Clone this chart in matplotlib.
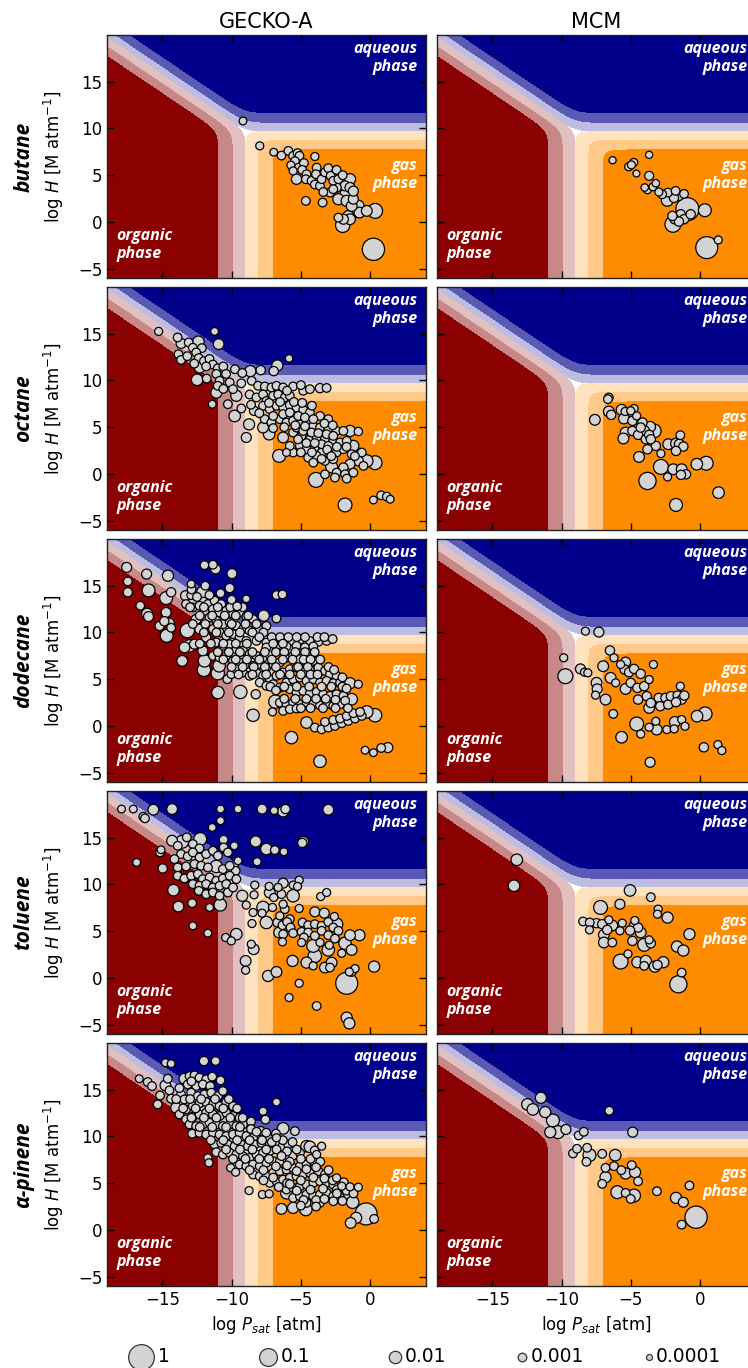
#!/usr/bin/env python3
"""Phase-partitioning maps (organic / aqueous / gas) for GECKO-A and MCM products."""

import matplotlib

matplotlib.use("Agg")
import matplotlib.pyplot as plt
import numpy as np

plt.rcParams.update(
    {
        "font.family": "DejaVu Sans",
        "font.size": 12,
        "axes.linewidth": 1.0,
        "mathtext.default": "it",
    }
)

LABEL_FONT = ["Open Sans", "DejaVu Sans"]

# partitioning thresholds: log H where aqueous uptake = 1, log Psat where organic uptake = 1
LOG_H_AQ = 9.7
LOG_P_ORG = -9.0
FRAC_LEVELS = [0.5, 0.9, 0.99, 1.001]

AQ_COLORS = ["#bdbde2", "#5a5ab4", "#00008b"]
ORG_COLORS = ["#e3c0c0", "#c88888", "#8b0000"]
GAS_COLORS = ["#ffe3bf", "#ffc98a", "#ff8c00"]

PRECURSORS = ["butane", "octane", "dodecane", "toluene", "α-pinene"]
MECHANISMS = ["GECKO-A", "MCM"]
LEGEND_FRACS = [1, 0.1, 0.01, 0.001, 0.0001]
LEGEND_LABELS = ["1", "0.1", "0.01", "0.001", "0.0001"]

# (log Psat [atm], log H [M/atm], log10 molar yield)
GECKO_BUTANE = [
    (-9.18, 10.8, -3.3), (-7.97, 8.14, -3.2), (-6.96, 7.46, -3.3), (-6.4, 7.1, -3.0),
    (-5.9, 7.6, -3.0), (-5.56, 7.07, -3.0), (-5.24, 7.36, -3.0), (-5.1, 7.07, -3.0),
    (-5.43, 6.5, -3.0), (-5.72, 6.07, -3.2), (-5.56, 5.46, -3.2), (-5.17, 5.8, -3.0),
    (-4.78, 6.3, -3.0), (-4.9, 5.57, -3.0), (-4.59, 5.1, -3.0), (-5.31, 4.57, -2.5),
    (-4.64, 4.57, -3.0), (-4.23, 4.4, -3.0), (-3.99, 7.0, -3.2), (-3.86, 5.8, -3.0),
    (-3.91, 5.1, -3.0), (-3.99, 4.0, -3.0), (-3.62, 3.86, -3.0), (-3.5, 4.57, -3.0),
    (-3.26, 5.3, -3.0), (-3.02, 5.75, -3.0), (-2.85, 4.93, -3.0), (-2.66, 4.4, -3.0),
    (-2.42, 5.57, -3.0), (-2.29, 4.57, -3.0), (-1.98, 5.0, -3.0), (-1.45, 4.57, -2.3),
    (-1.81, 3.86, -2.6), (-2.42, 3.68, -2.8), (-2.9, 3.14, -3.0), (-2.66, 3.5, -3.0),
    (-3.38, 3.2, -3.0), (-1.57, 2.86, -1.1), (-2.29, 2.43, -2.3), (-1.69, 2.25, -2.3),
    (-1.21, 2.43, -2.6), (-0.85, 1.71, -2.2), (-1.21, 1.0, -2.2), (-0.77, 1.0, -2.4),
    (-0.24, 1.18, -2.4), (0.36, 1.18, -1.5), (-1.93, 0.29, -2.6), (-2.29, 0.46, -3.0),
    (-1.98, -0.36, -1.6), (-1.57, 0.64, -2.4), (-4.64, 2.25, -3.0), (-3.43, 2.07, -3.0),
    (0.24, -2.93, -0.4), (-1.45, 3.68, -2.6), (-1.21, 3.3, -2.6), (-1.33, 1.7, -2.4),
    (-1.45, 0.29, -2.4),
]

MCM_BUTANE = [
    (-6.32, 6.6, -3.5), (-5.16, 5.9, -3.2), (-4.79, 6.36, -3.2), (-4.96, 6.1, -3.2),
    (-3.68, 7.18, -3.5), (-4.6, 5.18, -3.6), (-3.68, 4.93, -2.9), (-3.2, 4.14, -3.4),
    (-4.0, 3.68, -3.4), (-3.8, 3.43, -3.3), (-3.41, 3.75, -3.3), (-2.98, 3.2, -3.2),
    (-2.32, 3.14, -3.0), (-2.37, 2.32, -2.1), (-1.77, 3.32, -3.0), (-1.53, 2.79, -2.8),
    (-1.16, 3.0, -3.0), (-1.89, 2.57, -2.8), (-0.92, 1.36, -0.3), (0.34, 1.25, -1.9),
    (-1.4, 0.82, -2.8), (-1.84, 0.29, -2.8), (-1.96, -0.25, -1.3), (-1.16, 0.29, -2.8),
    (-1.53, 0.04, -2.8), (0.48, -2.75, -0.43), (1.31, -1.93, -3.2), (-2.0, 0.64, -2.8),
    (-0.68, 0.82, -2.8), (-2.74, 2.96, -3.0),
]

GECKO_OCTANE = [
    (-15.27, 15.25, -3.2), (-13.9, 14.6, -3.0), (-13.65, 13.96, -2.6), (-13.1, 14.07, -3.0),
    (-12.4, 14.14, -2.2), (-12.8, 13.5, -3.0), (-12.15, 13.46, -3.0), (-11.23, 15.25, -3.3),
    (-10.94, 13.89, -2.4), (-13.84, 12.8, -3.0), (-13.65, 12.2, -3.0), (-12.56, 13.0, -3.0),
    (-12.37, 12.4, -3.0), (-12.0, 12.07, -3.0), (-11.6, 12.3, -3.0), (-11.35, 11.7, -3.0),
    (-12.3, 11.4, -2.3), (-11.84, 11.5, -3.0), (-11.0, 11.3, -3.0), (-10.6, 11.5, -3.0),
    (-11.1, 10.7, -3.0), (-10.4, 10.7, -3.0), (-9.76, 11.2, -3.0), (-9.23, 10.8, -3.0),
    (-8.65, 11.0, -2.3), (-7.9, 11.1, -2.8), (-6.96, 11.0, -2.8), (-6.7, 11.6, -2.3),
    (-5.85, 12.36, -3.4), (-12.49, 10.07, -2.2), (-10.87, 9.96, -3.0), (-11.0, 9.43, -3.0),
    (-10.14, 9.79, -3.0), (-9.9, 9.07, -3.0), (-11.1, 8.7, -2.3), (-9.66, 8.36, -2.3),
    (-10.27, 7.46, -3.0), (-11.4, 7.46, -3.3), (-9.78, 6.2, -2.2), (-8.94, 3.9, -2.6),
    (-8.74, 5.3, -2.3), (-8.38, 6.75, -2.8), (-9.3, 9.7, -3.0), (-8.55, 9.96, -3.0),
    (-8.09, 9.43, -3.0), (-7.6, 9.36, -3.0), (-7.13, 9.25, -3.0), (-6.76, 9.43, -3.0),
    (-6.28, 9.25, -3.0), (-5.56, 9.36, -3.0), (-4.83, 8.9, -3.0), (-4.35, 9.07, -3.0),
    (-3.62, 9.18, -2.8), (-3.14, 9.2, -3.0), (-8.7, 8.5, -3.0), (-8.21, 8.18, -3.0),
    (-7.73, 8.5, -3.0), (-7.49, 7.8, -3.0), (-7.0, 8.36, -3.0), (-6.64, 8.5, -3.0),
    (-6.16, 8.18, -3.0), (-5.8, 8.36, -3.0), (-7.73, 7.29, -3.0), (-7.25, 6.93, -3.0),
    (-6.76, 7.29, -3.0), (-6.28, 7.1, -3.0), (-5.8, 7.36, -3.0), (-5.31, 7.1, -3.0),
    (-4.83, 6.86, -3.0), (-4.35, 6.57, -3.0), (-3.62, 6.2, -3.0), (-3.02, 5.86, -3.0),
    (-7.61, 5.86, -3.0), (-7.13, 5.5, -3.0), (-6.52, 5.86, -3.0), (-6.04, 5.5, -3.0),
    (-5.56, 5.68, -3.0), (-5.07, 5.32, -3.0), (-4.59, 5.5, -3.0), (-4.1, 5.14, -3.0),
    (-3.62, 4.96, -3.0), (-3.02, 4.79, -3.0), (-2.42, 4.6, -3.0), (-1.93, 4.6, -3.0),
    (-1.45, 4.6, -2.3), (-0.85, 4.54, -3.1), (-7.73, 4.96, -2.4), (-7.29, 4.25, -2.2),
    (-6.28, 3.9, -2.4), (-5.56, 4.43, -3.0), (-4.95, 4.07, -3.0), (-4.35, 3.7, -3.0),
    (-3.86, 3.9, -3.0), (-3.26, 3.7, -3.0), (-2.66, 3.54, -3.0), (-2.17, 3.36, -3.0),
    (-1.69, 3.54, -3.0), (-1.21, 3.0, -2.3), (-5.07, 3.0, -3.0), (-4.59, 2.64, -3.0),
    (-3.99, 2.82, -3.0), (-3.5, 2.29, -3.0), (-2.9, 2.46, -3.0), (-2.42, 2.29, -3.0),
    (-5.56, 2.29, -3.0), (-4.47, 1.75, -3.0), (-3.86, 1.93, -3.0), (-6.57, 1.93, -1.9),
    (-0.6, 2.29, -3.0), (-0.24, 1.39, -2.0), (0.36, 1.2, -1.7), (-0.85, 1.39, -2.6),
    (-1.45, 1.04, -2.6), (-1.93, 0.68, -2.8), (-2.78, 0.75, -2.1), (-2.42, 0.14, -3.0),
    (-1.81, -0.04, -3.0), (-1.21, 0.14, -3.0), (-3.26, -0.04, -3.0), (-3.91, -0.64, -1.5),
    (-2.54, -0.39, -3.0), (-1.69, -0.5, -3.0), (-1.81, -3.32, -1.7), (0.24, -2.79, -3.3),
    (0.8, -2.29, -3.0), (1.21, -2.43, -3.0), (1.45, -2.71, -3.3), (-7.0, 6.2, -3.0),
    (-6.28, 6.4, -3.0), (-5.8, 6.57, -3.0), (-5.19, 6.2, -3.0), (-4.71, 6.04, -3.0),
    (-4.1, 5.86, -3.0), (-5.31, 4.96, -3.0), (-4.83, 4.6, -3.0), (-4.23, 4.43, -3.0),
    (-3.74, 4.36, -3.0), (-3.14, 4.25, -3.0), (-2.66, 4.07, -3.0), (-3.5, 3.18, -3.0),
    (-3.02, 3.0, -3.0), (-1.93, 2.64, -3.0), (-1.33, 2.11, -3.0), (-5.8, 3.0, -3.0),
    (-6.04, 2.29, -3.3), (-4.1, 1.21, -3.0), (-3.26, 1.39, -3.0), (-2.66, 1.57, -3.0),
    (-0.48, 0.86, -3.0),
    (-7.3, 7.6, -3.0), (-6.5, 7.7, -3.0), (-5.5, 7.7, -3.0), (-4.9, 7.6, -3.0),
    (-4.2, 7.3, -3.0), (-7.0, 4.9, -3.0), (-6.2, 5.0, -3.0), (-5.4, 5.2, -3.0),
    (-4.7, 5.1, -3.0), (-3.3, 5.4, -3.0), (-2.7, 5.2, -3.0), (-5.2, 3.7, -3.0),
    (-4.6, 3.3, -3.0), (-4.0, 3.3, -3.0), (-3.1, 2.6, -3.0), (-2.4, 2.9, -3.0),
    (-1.7, 2.9, -3.0), (-5.0, 2.3, -3.0), (-4.2, 2.3, -3.0), (-3.5, 1.6, -3.0),
    (-2.8, 1.9, -3.0), (-1.1, 1.9, -3.0), (-6.0, 8.9, -3.0), (-5.0, 9.5, -3.0),
    (-8.0, 6.5, -3.0), (-8.6, 7.4, -3.0), (-9.3, 7.0, -3.0), (-10.6, 9.1, -3.0),
    (-11.8, 10.2, -3.0), (-13.2, 12.6, -3.0), (-12.7, 11.8, -3.0),
]

MCM_OCTANE = [
    (-6.59, 8.18, -3.0), (-6.66, 8.0, -3.0), (-7.6, 5.79, -2.4), (-6.59, 6.68, -2.4),
    (-6.42, 6.32, -2.8), (-5.67, 6.86, -2.4), (-5.42, 6.68, -3.2), (-4.77, 7.0, -3.2),
    (-4.58, 6.21, -3.2), (-5.5, 5.93, -2.4), (-4.89, 5.68, -2.8), (-4.16, 5.5, -2.8),
    (-3.61, 5.04, -2.4), (-5.38, 4.43, -2.4), (-4.89, 4.6, -2.8), (-4.48, 4.18, -2.8),
    (-4.04, 4.6, -2.4), (-3.32, 4.6, -1.7), (-5.54, 3.79, -2.4), (-3.92, 3.71, -2.8),
    (-3.68, 4.18, -2.8), (-3.2, 3.0, -2.8), (-3.8, 2.64, -2.8), (-4.41, 1.82, -2.4),
    (-2.83, 2.18, -3.2), (-2.3, 3.18, -2.4), (-1.74, 3.25, -2.4), (-1.43, 4.14, -3.0),
    (-1.5, 3.18, -2.6), (-1.21, 2.93, -2.8), (-1.74, 2.46, -2.8), (-2.83, 0.75, -1.5),
    (-2.35, -0.32, -3.2), (-3.8, -0.75, -1.1), (-1.94, 0.5, -2.4), (-1.33, 0.5, -2.4),
    (-1.02, -0.04, -2.8), (-1.38, -0.1, -2.8), (-0.24, 1.04, -2.2), (0.44, 1.14, -1.7),
    (1.33, -2.0, -2.2), (-1.74, -3.32, -1.9), (-4.29, 4.96, -2.8), (-3.56, 3.71, -2.8),
    (-5.01, 6.75, -3.2),
]

GECKO_DODECANE = [
    (-11.96, 17.2, -3.0), (-11.35, 17.25, -3.0), (-11.16, 16.8, -2.6), (-9.98, 16.3, -2.6),
    (-10.14, 14.75, -2.8), (-8.94, 13.6, -3.4), (-6.76, 14.0, -3.0), (-6.33, 14.07, -3.0),
    (-7.68, 11.8, -2.3), (-6.76, 11.5, -3.0), (-7.49, 10.7, -3.0), (-17.58, 16.96, -2.6),
    (-17.5, 15.46, -3.0), (-17.5, 14.3, -2.8), (-16.14, 16.25, -2.6), (-16.0, 14.5, -1.9),
    (-16.6, 12.86, -3.0), (-16.1, 12.0, -2.3), (-16.0, 11.7, -2.6), (-14.6, 16.07, -2.3),
    (-14.73, 13.68, -1.9), (-14.37, 14.3, -2.8), (-14.73, 12.14, -2.6), (-15.2, 10.7, -2.8),
    (-14.69, 9.64, -1.9), (-14.5, 11.0, -2.6), (-14.37, 10.5, -3.0), (-14.86, 11.2, -2.8),
    (-13.57, 6.96, -2.4), (-13.4, 8.4, -2.4), (-13.04, 8.57, -2.0), (-13.2, 10.2, -1.6),
    (-13.33, 13.93, -2.6), (-12.92, 14.0, -3.0), (-12.92, 15.18, -3.3), (-12.08, 14.29, -2.0),
    (-12.03, 13.3, -3.0), (-11.96, 12.3, -3.0), (-12.56, 11.4, -2.6), (-12.3, 10.36, -2.6),
    (-11.84, 9.46, -2.8), (-12.68, 8.75, -2.6), (-12.08, 8.04, -2.6), (-11.96, 6.96, -2.0),
    (-12.0, 6.0, -1.8), (-11.0, 5.64, -1.8), (-10.9, 6.43, -2.0), (-10.31, 5.0, -3.0),
    (-10.02, 5.54, -3.0), (-10.99, 3.57, -2.0), (-9.37, 3.64, -1.8), (-8.45, 1.14, -2.0),
    (-8.26, 3.39, -2.8), (-7.05, 1.5, -3.2), (-6.84, 2.6, -1.8), (-5.68, -1.25, -2.0),
    (-3.62, -3.79, -2.0), (-0.36, -2.6, -3.3), (0.24, -2.86, -3.3), (0.8, -2.36, -3.0),
    (1.28, -2.32, -2.6),
    (-8.21, 9.1, -3.0), (-7.49, 8.93, -3.0), (-6.88, 9.1, -3.0), (-6.28, 9.29, -3.0),
    (-5.68, 9.1, -3.0), (-5.07, 9.2, -3.0), (-4.35, 9.1, -3.0), (-3.74, 9.0, -3.0),
    (-3.14, 9.1, -3.0), (-7.49, 8.4, -3.0), (-6.76, 8.57, -3.0), (-6.04, 8.5, -3.0),
    (-5.31, 8.57, -3.0), (-4.71, 8.4, -3.0), (-4.1, 8.5, -3.0),
    (-13.29, 13.04, -3.0), (-12.8, 12.68, -3.0), (-12.32, 12.86, -3.0), (-11.71, 13.04, -3.0),
    (-11.23, 13.4, -3.0), (-10.75, 13.04, -3.0), (-11.35, 12.5, -3.0), (-10.87, 12.14, -3.0),
    (-10.39, 12.32, -3.0), (-9.9, 11.96, -3.0), (-9.42, 12.14, -3.0), (-8.94, 11.71, -3.0),
    (-8.45, 11.43, -3.0), (-11.59, 11.61, -3.0), (-11.11, 11.25, -3.0), (-10.63, 10.89, -3.0),
    (-10.14, 11.07, -3.0), (-9.66, 10.71, -3.0), (-9.18, 10.36, -3.0), (-8.7, 10.18, -3.0),
    (-11.35, 10.36, -3.0), (-10.87, 10.0, -3.0), (-10.39, 9.64, -3.0), (-9.9, 9.82, -3.0),
    (-9.42, 9.46, -3.0), (-8.94, 9.1, -3.0), (-11.11, 8.93, -3.0), (-10.63, 8.57, -3.0),
    (-10.14, 8.75, -3.0), (-9.66, 8.21, -3.0), (-9.18, 8.04, -3.0), (-8.7, 7.68, -3.0),
    (-8.21, 7.5, -3.0), (-7.73, 7.32, -3.0), (-7.25, 7.57, -3.0), (-11.35, 7.5, -3.0),
    (-10.87, 7.32, -3.0), (-10.39, 7.5, -3.0), (-9.9, 6.96, -3.0), (-9.42, 6.79, -3.0),
    (-8.94, 6.61, -3.0), (-8.45, 6.43, -3.0), (-7.97, 6.61, -3.0), (-7.49, 6.25, -3.0),
    (-7.0, 6.61, -3.0), (-6.52, 6.79, -3.0), (-6.04, 7.32, -3.0), (-5.56, 7.5, -3.0),
    (-5.07, 7.14, -3.0), (-4.59, 6.79, -3.0), (-4.1, 6.96, -3.0), (-9.66, 6.07, -3.0),
    (-9.18, 5.71, -3.0), (-8.7, 5.36, -3.0), (-8.21, 5.71, -3.0), (-7.73, 5.36, -3.0),
    (-7.25, 5.0, -3.0), (-6.76, 5.36, -3.0), (-6.28, 5.71, -3.0), (-5.8, 6.07, -3.0),
    (-5.31, 6.25, -3.0), (-4.83, 5.89, -3.0), (-4.35, 6.07, -3.0), (-3.74, 6.25, -3.0),
    (-3.26, 5.89, -3.0), (-2.9, 5.54, -3.0), (-2.42, 5.36, -3.0), (-7.97, 4.64, -3.0),
    (-7.49, 4.29, -3.0), (-7.0, 4.46, -3.0), (-6.52, 4.11, -3.0), (-6.04, 4.64, -3.0),
    (-5.56, 5.0, -3.0), (-5.07, 5.18, -3.0), (-4.59, 4.82, -3.0), (-4.1, 5.0, -3.0),
    (-3.62, 4.64, -3.0), (-3.14, 4.82, -3.0), (-2.66, 4.57, -3.0), (-2.17, 4.64, -3.0),
    (-1.45, 4.57, -2.3), (-0.85, 4.46, -3.2), (-5.8, 3.93, -3.0), (-5.31, 3.57, -3.0),
    (-4.83, 3.75, -3.0), (-4.35, 3.5, -3.0), (-3.86, 3.64, -3.0), (-3.38, 3.39, -3.0),
    (-2.9, 3.21, -3.0), (-2.42, 3.39, -3.0), (-1.93, 3.21, -3.0), (-1.33, 2.86, -2.2),
    (-6.52, 2.5, -3.0), (-6.04, 2.32, -3.0), (-5.56, 2.5, -3.0), (-5.07, 2.32, -3.0),
    (-4.59, 2.5, -3.0), (-4.1, 2.32, -3.0), (-3.62, 2.21, -3.0), (-3.14, 2.32, -3.0),
    (-2.66, 2.14, -3.0), (-2.17, 2.32, -3.0), (-6.28, 1.61, -3.0), (-5.8, 1.79, -3.0),
    (-5.31, 1.86, -3.0),
    (-4.59, 0.36, -2.2), (-3.99, -0.18, -3.0), (-3.5, -0.36, -3.0), (-3.02, -0.18, -3.0),
    (-2.54, 0.0, -3.0), (-2.05, 0.29, -3.0), (-1.57, 0.54, -3.0), (-1.09, 0.79, -3.0),
    (-0.6, 1.07, -3.0), (-0.24, 1.5, -2.0), (0.36, 1.14, -1.8), (-3.26, 0.43, -3.0),
    (-2.66, 0.64, -3.0), (-2.17, 0.79, -3.0), (-1.69, 1.07, -3.0), (-1.21, 1.36, -3.0),
    (-0.72, 1.5, -3.0),
    (-13.0, 12.7, -3.0), (-12.0, 12.7, -3.0), (-11.0, 12.7, -3.0), (-10.1, 12.7, -3.0),
    (-9.2, 12.7, -3.0), (-12.3, 11.8, -3.0), (-11.4, 11.8, -3.0), (-10.5, 11.8, -3.0),
    (-9.7, 11.8, -3.0), (-8.8, 11.8, -3.0), (-12.8, 10.9, -3.0), (-11.9, 10.9, -3.0),
    (-11.0, 10.9, -3.0), (-10.0, 10.9, -3.0), (-9.0, 10.9, -3.0), (-8.2, 10.9, -3.0),
    (-12.0, 10.0, -3.0), (-11.1, 10.0, -3.0), (-10.2, 10.0, -3.0), (-9.4, 10.0, -3.0),
    (-8.5, 10.0, -3.0), (-7.7, 10.0, -3.0), (-8.0, 9.5, -3.0), (-7.1, 9.5, -3.0),
    (-6.5, 9.5, -3.0), (-5.9, 9.5, -3.0), (-5.3, 9.5, -3.0), (-4.7, 9.5, -3.0),
    (-3.8, 9.5, -3.0), (-3.3, 9.5, -3.0), (-2.7, 9.3, -3.0), (-12.3, 8.8, -3.0),
    (-11.5, 8.8, -3.0), (-10.6, 8.8, -3.0), (-9.7, 8.8, -3.0), (-8.9, 8.8, -3.0),
    (-7.0, 8.8, -3.0), (-6.3, 8.8, -3.0), (-11.0, 7.9, -3.0), (-10.2, 7.9, -3.0),
    (-9.4, 7.9, -3.0), (-8.5, 7.9, -3.0), (-7.6, 7.9, -3.0), (-6.8, 7.9, -3.0),
    (-6.2, 7.9, -3.0), (-5.4, 7.9, -3.0), (-4.7, 7.9, -3.0), (-4.0, 7.9, -3.0),
    (-10.6, 7.1, -3.0), (-9.7, 7.1, -3.0), (-8.9, 7.1, -3.0), (-8.0, 7.1, -3.0),
    (-7.1, 7.1, -3.0), (-6.3, 7.1, -3.0), (-5.6, 7.1, -3.0), (-4.8, 7.1, -3.0),
    (-4.3, 7.1, -3.0), (-3.6, 7.1, -3.0), (-10.0, 6.3, -3.0), (-9.2, 6.3, -3.0),
    (-8.4, 6.3, -3.0), (-7.6, 6.3, -3.0), (-6.8, 6.3, -3.0), (-5.2, 6.3, -3.0),
    (-4.5, 6.3, -3.0), (-3.0, 6.3, -3.0), (-2.6, 6.0, -3.0), (-9.5, 5.5, -3.0),
    (-8.5, 5.5, -3.0), (-7.5, 5.5, -3.0), (-6.5, 5.5, -3.0), (-5.8, 5.5, -3.0),
    (-5.0, 5.5, -3.0), (-4.3, 5.5, -3.0), (-3.8, 5.5, -3.0), (-2.0, 5.2, -3.0),
    (-7.2, 4.2, -3.0), (-6.8, 3.8, -3.0), (-6.2, 4.2, -3.0), (-5.3, 4.2, -3.0),
    (-4.4, 4.2, -3.0), (-3.5, 4.2, -3.0), (-2.8, 4.2, -3.0), (-2.0, 4.2, -3.0),
    (-1.7, 4.0, -3.0), (-6.2, 2.9, -3.0), (-5.4, 2.9, -3.0), (-4.6, 2.9, -3.0),
    (-3.9, 2.9, -3.0), (-3.2, 2.9, -3.0), (-2.5, 2.8, -3.0), (-1.8, 2.7, -3.0),
    (-5.0, 1.9, -3.0), (-4.3, 1.9, -3.0), (-3.4, 1.9, -3.0), (-2.5, 1.9, -3.0),
    (-1.6, 1.9, -3.0), (-12.5, 13.8, -3.0), (-11.6, 14.0, -3.0), (-10.8, 14.2, -3.0),
    (-10.0, 13.5, -3.0), (-9.6, 12.8, -3.0), (-12.9, 14.6, -3.0), (-11.9, 15.0, -3.0),
]

MCM_DODECANE = [
    (-8.28, 10.14, -3.2), (-7.31, 10.04, -2.6), (-9.85, 7.29, -3.2), (-9.73, 5.32, -1.5),
    (-8.64, 6.1, -2.6), (-8.35, 5.75, -3.2), (-8.11, 5.68, -3.2), (-6.51, 8.07, -2.8),
    (-6.22, 7.29, -3.2), (-7.0, 6.39, -2.4), (-5.74, 6.57, -3.2), (-5.38, 6.82, -2.6),
    (-5.45, 6.04, -2.8), (-5.13, 5.75, -2.8), (-4.77, 6.1, -2.8), (-4.29, 5.57, -2.8),
    (-3.37, 6.57, -3.2), (-6.46, 5.14, -2.4), (-7.48, 4.61, -2.4), (-7.43, 3.96, -2.6),
    (-7.55, 3.29, -3.2), (-6.83, 2.82, -2.4), (-6.27, 1.29, -3.0), (-6.1, 4.61, -3.2),
    (-5.38, 3.96, -2.4), (-5.01, 4.61, -2.8), (-4.53, 4.07, -2.8), (-4.04, 4.25, -2.8),
    (-3.68, 4.96, -3.2), (-4.48, 2.82, -2.8), (-3.85, 3.18, -2.8), (-3.56, 2.46, -2.8),
    (-3.68, 1.93, -2.4), (-2.99, 3.0, -2.8), (-2.5, 3.0, -2.8), (-2.88, 2.11, -2.8),
    (-2.3, 2.29, -2.8), (-2.11, 3.18, -2.8), (-1.62, 3.25, -2.8), (-1.43, 4.25, -3.2),
    (-1.33, 2.82, -2.8), (-1.14, 3.25, -2.8), (-1.74, 2.54, -2.8), (-0.22, 1.04, -2.2),
    (0.36, 1.29, -1.7), (-4.58, 0.21, -1.7), (-3.68, -0.14, -3.2), (-3.2, 0.5, -3.2),
    (-3.13, -0.39, -2.4), (-2.4, -0.39, -3.2), (-1.87, -0.32, -3.2), (-1.82, 0.43, -2.4),
    (-1.33, 0.68, -3.2), (-1.09, -0.04, -3.2), (-4.29, -0.86, -3.2), (-5.67, -1.21, -2.2),
    (0.27, -2.29, -2.8), (1.28, -2.0, -3.2), (1.57, -2.64, -3.2), (-3.61, -3.89, -2.6),
]

GECKO_TOLUENE = [
    (-17.95, 18.07, -3.3), (-17.1, 18.07, -3.3), (-16.38, 17.25, -3.0), (-16.26, 17.07, -3.0),
    (-15.65, 18.0, -2.4), (-14.3, 18.07, -2.4), (-10.8, 18.07, -3.3), (-9.54, 18.07, -3.3),
    (-7.8, 18.07, -2.6), (-6.93, 17.9, -3.3), (-6.28, 17.82, -2.3), (-6.11, 18.07, -2.8),
    (-3.02, 18.0, -2.4), (-10.8, 16.82, -3.3), (-11.4, 16.1, -3.3), (-8.26, 14.6, -2.3),
    (-7.49, 13.79, -2.2), (-6.88, 13.68, -3.0), (-6.23, 13.5, -3.3), (-8.16, 12.43, -3.2),
    (-4.83, 14.57, -2.4), (-4.9, 14.45, -2.8), (-10.58, 14.79, -3.0), (-9.81, 14.14, -3.3),
    (-10.58, 13.96, -3.0), (-10.27, 13.43, -3.0), (-9.54, 12.54, -3.3), (-9.83, 12.07, -3.0),
    (-9.71, 11.46, -3.0), (-16.86, 12.36, -3.3), (-15.1, 13.71, -3.3), (-15.17, 13.43, -3.0),
    (-14.98, 11.71, -2.8), (-14.2, 9.39, -2.2), (-13.84, 7.64, -2.4), (-12.8, 5.57, -3.3),
    (-12.85, 8.0, -3.0), (-11.72, 4.79, -3.3), (-11.59, 7.54, -3.3), (-10.82, 7.82, -2.0),
    (-14.3, 14.68, -2.4), (-13.57, 14.57, -1.9), (-13.24, 15.04, -3.0), (-12.8, 14.32, -3.0),
    (-12.27, 14.86, -1.9), (-12.32, 13.86, -3.0), (-13.89, 14.14, -3.0), (-13.65, 13.25, -3.0),
    (-13.17, 13.0, -3.0), (-12.8, 13.43, -3.0), (-12.32, 12.89, -3.0), (-11.84, 13.25, -3.0),
    (-11.35, 13.61, -3.0), (-10.99, 13.07, -3.0), (-14.13, 12.71, -3.0), (-13.89, 11.82, -3.0),
    (-13.29, 11.93, -3.0), (-12.68, 12.18, -3.0), (-12.2, 12.0, -3.0), (-11.71, 11.82, -3.0),
    (-11.11, 11.93, -2.0), (-10.63, 11.64, -3.0), (-10.14, 12.0, -3.0), (-13.89, 10.93, -3.0),
    (-13.41, 10.64, -3.0), (-12.92, 10.93, -3.0), (-12.44, 11.11, -3.0), (-12.08, 10.57, -3.0),
    (-11.59, 10.75, -3.0), (-11.11, 10.39, -3.0), (-10.63, 10.64, -3.0), (-10.14, 10.93, -3.0),
    (-9.66, 10.57, -3.0), (-12.8, 10.04, -3.0), (-12.32, 9.86, -3.0), (-11.84, 10.04, -3.0),
    (-11.35, 9.68, -3.0), (-10.87, 9.86, -3.0), (-10.39, 10.04, -3.0), (-12.37, 9.32, -3.0),
    (-11.84, 8.96, -3.0), (-11.35, 9.14, -3.0), (-10.87, 8.79, -3.0), (-10.27, 9.14, -3.0),
    (-9.9, 9.68, -3.0), (-9.23, 8.79, -2.3), (-8.94, 7.79, -3.2), (-8.38, 8.89, -3.2),
    (-8.33, 9.93, -3.2),
    (-7.29, 9.79, -3.2), (-6.64, 9.68, -3.2), (-6.28, 10.14, -2.6), (-5.56, 9.93, -3.2),
    (-5.12, 10.46, -3.2), (-5.24, 9.79, -3.2), (-5.56, 8.79, -2.0), (-7.25, 9.14, -2.4),
    (-6.96, 8.61, -3.2), (-6.4, 8.96, -3.0), (-3.57, 8.71, -3.2), (-3.14, 9.14, -3.2),
    (-7.73, 7.54, -2.0), (-7.05, 7.54, -3.2), (-6.28, 7.89, -3.2), (-6.16, 7.36, -3.0),
    (-5.12, 7.43, -3.2), (-3.99, 7.07, -2.6), (-3.31, 6.93, -2.6), (-2.58, 6.57, -3.2),
    (-8.45, 7.0, -3.2), (-7.8, 6.93, -3.2), (-6.52, 6.64, -3.2), (-5.8, 6.29, -3.0),
    (-7.49, 5.93, -2.0), (-8.53, 5.82, -3.2), (-6.71, 5.93, -3.0), (-6.33, 5.64, -3.0),
    (-5.99, 5.99, -3.0), (-5.75, 5.39, -3.0), (-4.88, 5.93, -3.0), (-4.47, 5.64, -3.0),
    (-3.99, 5.75, -3.0), (-3.5, 5.57, -3.0), (-3.02, 5.99, -3.0), (-2.42, 5.75, -2.0),
    (-2.66, 5.39, -3.0), (-2.29, 5.04, -3.0), (-6.57, 4.86, -2.4), (-6.28, 4.68, -3.0),
    (-5.56, 4.79, -3.0), (-4.95, 4.93, -3.0), (-4.47, 4.86, -3.0), (-3.99, 4.5, -3.0),
    (-3.5, 5.04, -3.0), (-3.02, 4.57, -3.0), (-2.54, 4.21, -3.0), (-9.66, 4.68, -2.2),
    (-10.43, 4.32, -3.2), (-10.02, 3.96, -3.2), (-8.58, 3.61, -3.2), (-8.41, 3.07, -2.4),
    (-8.99, 1.82, -2.4), (-8.99, 0.82, -3.2), (-6.33, 3.86, -3.2), (-4.95, 3.79, -3.2),
    (-4.78, 4.32, -3.0), (-4.11, 3.43, -1.9), (-3.62, 3.79, -3.2), (-3.02, 3.0, -2.0),
    (-2.95, 3.5, -3.2), (-1.81, 3.71, -2.0), (-1.33, 3.0, -2.4), (-1.45, 4.57, -2.4),
    (-0.77, 4.57, -2.3), (-2.05, 2.64, -3.2),
    (-5.6, 1.82, -2.3), (-4.59, 1.64, -2.3), (-3.99, 2.36, -1.8), (-4.11, 1.29, -3.2),
    (-3.26, 1.11, -2.4), (-2.78, 1.64, -2.4), (-2.9, 1.11, -3.0), (-1.09, 1.0, -3.2),
    (-1.5, 0.64, -3.2), (0.29, 1.21, -2.3), (-1.69, -0.57, -0.43), (-5.12, -0.57, -3.2),
    (-6.76, 0.64, -2.4), (-7.37, 0.21, -2.3), (-5.85, -2.1, -3.2), (-3.86, -3.0, -3.0),
    (-1.69, -4.25, -2.3), (-1.5, -4.86, -2.3), (-1.33, 0.64, -3.0),
]

MCM_TOLUENE = [
    (-13.24, 12.64, -2.2), (-13.44, 9.86, -2.2), (-5.06, 9.36, -2.2), (-3.56, 8.64, -3.0),
    (-7.19, 7.54, -1.7), (-5.79, 7.89, -2.6), (-3.03, 7.36, -3.2), (-3.08, 6.82, -3.2),
    (-2.35, 6.46, -2.3), (-8.45, 6.04, -3.0), (-7.97, 5.93, -3.0), (-7.48, 5.86, -2.8),
    (-7.07, 5.75, -2.8), (-6.59, 6.21, -3.2), (-6.34, 5.61, -2.4), (-5.62, 5.86, -3.2),
    (-4.72, 6.14, -3.2), (-4.77, 5.61, -2.8), (-4.48, 5.39, -2.8), (-4.29, 4.86, -2.4),
    (-5.06, 5.07, -2.8), (-5.79, 5.04, -3.2), (-7.99, 5.14, -3.2), (-6.95, 4.61, -2.4),
    (-6.71, 5.14, -2.8), (-6.95, 3.79, -2.4), (-6.34, 3.79, -3.0), (-4.89, 3.96, -2.8),
    (-4.04, 3.54, -1.9), (-3.68, 4.07, -3.2), (-3.56, 3.71, -2.8), (-0.77, 4.68, -2.3),
    (-1.67, 3.36, -2.3), (-1.21, 2.93, -2.3), (-5.74, 1.75, -1.5), (-5.21, 2.57, -3.2),
    (-4.53, 1.68, -2.3), (-3.92, 1.82, -2.3), (-4.04, 1.29, -3.0), (-3.27, 1.21, -2.3),
    (-2.66, 1.68, -2.3), (-3.08, 1.39, -2.8), (-1.33, 0.57, -3.0), (-1.57, -0.68, -1.1),
]

GECKO_APINENE = [
    (-16.67, 16.18, -3.3), (-16.06, 15.82, -3.0), (-15.75, 15.39, -3.0), (-14.78, 17.89, -3.3),
    (-14.37, 17.79, -3.3), (-12.0, 18.07, -2.8), (-11.16, 18.07, -3.0), (-10.8, 16.0, -3.0),
    (-15.34, 13.43, -3.0), (-15.17, 14.39, -3.0), (-14.78, 15.46, -2.4), (-14.61, 16.18, -3.0),
    (-14.49, 14.93, -3.0), (-14.37, 14.04, -3.0), (-14.01, 13.07, -2.4), (-13.65, 14.5, -3.0),
    (-13.41, 16.18, -2.4), (-13.04, 16.46, -3.0), (-12.68, 16.54, -3.0), (-12.32, 16.29, -3.0),
    (-11.84, 16.11, -3.0), (-13.17, 15.57, -3.0), (-12.56, 15.39, -3.0), (-12.08, 15.57, -3.0),
    (-11.55, 15.39, -3.0), (-13.77, 15.18, -3.0), (-13.41, 13.96, -3.0), (-12.92, 14.68, -3.0),
    (-12.44, 14.32, -3.0), (-11.96, 14.5, -3.0), (-11.47, 14.68, -3.0), (-10.99, 14.32, -3.0),
    (-10.63, 14.86, -3.0), (-13.77, 12.36, -3.0), (-13.29, 12.89, -3.0), (-12.8, 13.25, -3.0),
    (-12.32, 13.54, -3.0), (-11.84, 13.68, -3.0), (-11.35, 13.43, -3.0), (-10.87, 13.25, -3.0),
    (-10.39, 13.68, -3.0), (-9.9, 13.25, -3.0), (-13.29, 11.82, -3.0), (-12.8, 12.11, -3.0),
    (-12.32, 12.36, -3.0), (-11.84, 12.54, -3.0), (-11.35, 12.36, -3.0), (-10.87, 12.18, -3.0),
    (-10.39, 12.54, -3.0), (-9.9, 12.18, -3.0), (-9.42, 12.0, -3.0), (-13.04, 11.29, -3.0),
    (-12.56, 11.11, -3.0), (-12.08, 11.29, -3.0), (-11.59, 11.46, -3.0), (-11.11, 11.29, -3.0),
    (-10.63, 11.11, -3.0), (-10.14, 11.29, -3.0), (-9.66, 11.11, -3.0), (-9.18, 11.29, -3.0),
    (-12.85, 10.29, -3.0), (-12.32, 10.39, -3.0), (-11.84, 10.21, -3.0), (-11.35, 10.39, -3.0),
    (-10.87, 10.21, -3.0), (-10.39, 10.04, -3.0), (-9.9, 10.21, -3.0), (-9.42, 10.39, -3.0),
    (-8.94, 10.04, -3.0), (-8.45, 9.86, -3.0), (-11.23, 9.14, -3.0), (-10.75, 9.32, -3.0),
    (-10.27, 9.14, -3.0), (-9.78, 8.96, -3.0), (-9.3, 9.14, -3.0), (-8.82, 8.96, -3.0),
    (-8.33, 9.14, -3.0), (-7.85, 9.32, -3.0), (-7.37, 9.86, -3.0), (-6.76, 9.86, -3.2),
    (-11.72, 7.71, -3.2), (-11.64, 7.18, -3.2), (-11.11, 8.32, -3.0), (-10.63, 8.07, -3.0),
    (-10.14, 8.25, -3.0), (-9.66, 8.07, -3.0), (-9.18, 7.89, -3.0), (-8.7, 7.71, -3.0),
    (-8.21, 8.07, -3.0), (-7.73, 8.25, -3.0), (-7.25, 8.43, -3.0), (-6.76, 8.61, -3.0),
    (-6.28, 8.96, -2.6), (-5.92, 9.14, -3.0), (-10.07, 6.64, -3.2), (-9.71, 6.18, -3.2),
    (-9.42, 7.0, -3.0), (-8.94, 6.82, -3.0), (-8.45, 7.0, -3.0), (-7.97, 6.82, -3.0),
    (-7.49, 7.18, -3.0), (-7.0, 7.36, -3.0), (-6.52, 7.36, -3.0), (-6.04, 7.71, -3.0),
    (-5.56, 7.96, -3.0), (-5.07, 8.25, -3.0), (-4.59, 8.96, -2.2), (-4.35, 8.89, -2.2),
    (-3.5, 8.96, -3.2), (-8.45, 5.93, -3.0), (-7.97, 5.75, -3.0), (-7.49, 5.93, -3.0),
    (-7.0, 6.11, -3.0), (-6.52, 6.29, -3.0), (-6.04, 6.46, -3.0), (-5.56, 6.64, -3.0),
    (-5.07, 6.82, -3.0), (-4.59, 7.0, -3.0), (-4.1, 7.36, -3.0), (-3.86, 8.07, -3.2),
    (-7.25, 5.04, -3.0), (-6.76, 5.21, -3.0), (-6.28, 5.39, -3.0), (-5.8, 5.57, -3.0),
    (-5.31, 5.75, -3.0), (-4.83, 5.93, -3.0), (-4.35, 6.11, -3.0), (-3.74, 6.29, -3.0),
    (-3.26, 5.93, -3.0), (-2.42, 5.57, -3.2), (-6.04, 4.32, -3.0), (-5.56, 4.5, -3.0),
    (-5.07, 4.68, -3.0), (-4.59, 4.86, -3.0), (-4.1, 5.04, -3.0), (-3.62, 5.21, -3.0),
    (-3.14, 5.04, -3.0), (-2.66, 4.86, -3.0), (-2.05, 4.68, -3.2), (-1.45, 4.61, -3.2),
    (-0.85, 4.57, -3.2), (-8.74, 4.21, -3.2), (-7.78, 3.79, -3.2), (-7.29, 3.86, -3.2),
    (-6.04, 3.93, -2.2), (-5.56, 3.43, -3.0), (-5.07, 3.61, -3.0), (-4.59, 3.79, -3.0),
    (-4.11, 3.61, -3.0), (-3.62, 3.79, -3.0), (-3.14, 3.96, -3.0), (-2.66, 3.61, -3.0),
    (-2.17, 3.43, -3.0), (-1.69, 3.68, -2.0), (-1.26, 2.96, -2.0), (-6.4, 2.25, -2.4),
    (-5.56, 2.36, -2.3), (-4.64, 2.18, -2.0), (-4.59, 2.89, -3.0), (-3.62, 2.89, -3.0),
    (-2.66, 3.07, -3.0), (-0.29, 1.71, -0.43), (-1.01, 1.29, -2.3), (-1.4, 0.75, -2.4),
    (0.29, 1.18, -3.0),
    (-7.73, 12.7, -3.2), (-7.56, 11.8, -3.0), (-6.28, 10.86, -2.2), (-5.43, 10.57, -3.0),
    (-6.76, 13.68, -3.3), (-12.9, 15.9, -3.0), (-11.4, 16.4, -3.0), (-14.0, 14.0, -3.0),
    (-13.0, 14.0, -3.0), (-12.2, 14.0, -3.0), (-11.2, 14.0, -3.0), (-10.2, 14.0, -3.0),
    (-13.5, 13.0, -3.0), (-12.6, 13.0, -3.0), (-11.6, 13.0, -3.0), (-10.6, 13.0, -3.0),
    (-9.6, 13.0, -3.0), (-12.9, 12.0, -3.0), (-12.0, 12.0, -3.0), (-11.1, 12.0, -3.0),
    (-10.1, 12.0, -3.0), (-9.2, 12.0, -3.0), (-8.6, 11.6, -3.0), (-12.3, 11.0, -3.0),
    (-11.4, 11.0, -3.0), (-10.4, 11.0, -3.0), (-9.4, 11.0, -3.0), (-8.6, 10.8, -3.0),
    (-7.9, 10.6, -3.0), (-8.2, 10.5, -3.0), (-7.5, 10.4, -3.0), (-6.8, 10.3, -3.0),
    (-11.5, 9.6, -3.0), (-10.6, 9.6, -3.0), (-9.6, 9.6, -3.0), (-8.7, 9.6, -3.0),
    (-7.8, 9.6, -3.0), (-7.1, 9.4, -3.0), (-6.3, 9.6, -3.0), (-5.6, 9.4, -3.0),
    (-10.4, 8.6, -3.0), (-9.4, 8.6, -3.0), (-8.5, 8.6, -3.0), (-7.5, 8.6, -3.0),
    (-6.0, 8.4, -3.0), (-5.3, 8.6, -3.0), (-4.0, 8.5, -3.0), (-9.9, 7.6, -3.0),
    (-9.0, 7.6, -3.0), (-8.0, 7.6, -3.0), (-7.3, 7.6, -3.0), (-6.4, 7.9, -3.0),
    (-5.8, 7.3, -3.0), (-5.0, 7.6, -3.0), (-4.3, 7.6, -3.0), (-3.6, 7.3, -3.0),
    (-8.7, 6.4, -3.0), (-7.7, 6.4, -3.0), (-6.8, 6.8, -3.0), (-6.0, 6.9, -3.0),
    (-5.3, 6.3, -3.0), (-4.6, 6.5, -3.0), (-3.9, 6.7, -3.0), (-3.0, 6.4, -3.0),
    (-7.7, 5.3, -3.0), (-7.0, 5.6, -3.0), (-6.0, 5.0, -3.0), (-5.0, 5.3, -3.0),
    (-4.1, 5.6, -3.0), (-3.3, 5.5, -3.0), (-2.7, 5.3, -3.0), (-1.9, 5.1, -3.0),
    (-6.6, 4.6, -3.0), (-5.8, 4.9, -3.0), (-5.3, 4.2, -3.0), (-4.3, 4.3, -3.0),
    (-3.4, 4.4, -3.0), (-2.4, 4.3, -3.0), (-1.7, 4.2, -3.0), (-4.8, 3.2, -3.0),
    (-3.9, 3.2, -3.0), (-2.4, 3.9, -3.0), (-1.2, 3.9, -3.0), (-3.3, 3.3, -3.0),
    (-2.0, 3.1, -3.0), (-5.0, 2.6, -3.0), (-3.9, 2.5, -3.0),
]

MCM_APINENE = [
    (-12.47, 13.43, -2.2), (-12.08, 12.89, -2.2), (-11.5, 14.14, -2.3), (-11.19, 12.61, -2.3),
    (-10.63, 11.71, -1.9), (-10.82, 10.46, -2.3), (-10.27, 10.46, -1.9), (-9.69, 10.75, -2.6),
    (-8.77, 10.11, -3.0), (-8.4, 10.5, -3.0), (-6.56, 12.75, -3.0), (-4.87, 10.46, -2.6),
    (-9.18, 8.18, -3.0), (-8.89, 8.68, -3.0), (-8.16, 8.79, -3.0), (-7.99, 8.0, -1.9),
    (-8.21, 7.29, -3.0), (-7.07, 8.14, -3.0), (-6.13, 8.0, -2.2), (-6.83, 6.64, -3.0),
    (-6.22, 6.82, -3.0), (-5.69, 6.39, -3.0), (-5.38, 6.04, -2.3), (-4.94, 6.93, -3.0),
    (-4.7, 6.18, -2.3), (-4.48, 5.21, -3.0), (-6.83, 5.64, -2.3), (-7.07, 4.93, -3.0),
    (-5.98, 4.04, -1.9), (-5.38, 3.96, -3.0), (-4.77, 3.68, -1.9), (-5.01, 3.32, -3.0),
    (-3.12, 4.14, -3.0), (-0.77, 4.75, -3.0), (-1.74, 3.43, -2.3), (-1.21, 2.96, -2.6),
    (-0.29, 1.36, -0.4), (-1.33, 0.57, -3.0),
]

PANEL_DATA = [
    [GECKO_BUTANE, MCM_BUTANE],
    [GECKO_OCTANE, MCM_OCTANE],
    [GECKO_DODECANE, MCM_DODECANE],
    [GECKO_TOLUENE, MCM_TOLUENE],
    [GECKO_APINENE, MCM_APINENE],
]

XLIM = (-19, 4)
YLIM = (-6, 20)
FIG_W, FIG_H = 748, 1368


def marker_area(log_frac):
    """Scatter area (pt^2) for a given log10 yield."""
    return marker_diam(log_frac) ** 2


def marker_diam(log_frac):
    """Marker diameter in points."""
    diam_px = 25.7 * 10 ** (0.158 * np.asarray(log_frac, dtype=float))
    return diam_px * 72 / 100


def phase_fractions(x, y):
    k_aq = 10 ** (y - LOG_H_AQ)
    k_org = 10 ** (LOG_P_ORG - x)
    total = 1 + k_aq + k_org
    return k_aq / total, k_org / total, 1 / total


def draw_background(ax, grid_x, grid_y):
    f_aq, f_org, f_gas = phase_fractions(grid_x, grid_y)
    for frac, colors in ((f_aq, AQ_COLORS), (f_org, ORG_COLORS), (f_gas, GAS_COLORS)):
        ax.contourf(grid_x, grid_y, frac, levels=FRAC_LEVELS, colors=colors, zorder=0)


def phase_labels(ax):
    style = dict(color="white", fontweight="bold", fontstyle="italic",
                 family=LABEL_FONT, fontsize=11.5, transform=ax.transAxes, linespacing=1.15)
    ax.text(0.975, 0.905, "aqueous\nphase", ha="right", va="center", **style)
    ax.text(0.975, 0.425, "gas\nphase", ha="right", va="center", **style)
    ax.text(0.03, 0.135, "organic\nphase", ha="left", va="center", **style)


def draw_size_key(fig):
    """Row of reference circles under the panels."""
    key = fig.add_axes([0, 0, 1, 24 / FIG_H])
    key.set_xlim(0, FIG_W)
    key.set_ylim(0, 24)
    key.axis("off")
    for i, (frac, label) in enumerate(zip(LEGEND_FRACS, LEGEND_LABELS)):
        cx = 141 + 127 * i
        log_f = np.log10(frac)
        key.scatter([cx], [11], s=marker_area(log_f), facecolor="#d3d3d3",
                    edgecolor="#333333", linewidth=0.9, clip_on=False)
        radius_px = marker_diam(log_f) * 100 / 72 / 2
        key.text(cx + radius_px + 4, 11, label, ha="left", va="center", fontsize=13.5)


def main():
    fig = plt.figure(figsize=(FIG_W / 100, FIG_H / 100), dpi=100)

    gx, gy = np.meshgrid(np.linspace(*XLIM, 500), np.linspace(*YLIM, 500))

    col_left = [107, 437]
    ax_w, ax_h = 318.5, 243
    for row, name in enumerate(PRECURSORS):
        top = 35 + 252 * row
        for col in range(2):
            ax = fig.add_axes([col_left[col] / FIG_W, 1 - (top + ax_h) / FIG_H,
                               ax_w / FIG_W, ax_h / FIG_H])
            ax.set_facecolor("white")
            draw_background(ax, gx, gy)

            pts = np.array(PANEL_DATA[row][col])
            pts = pts[np.argsort(-pts[:, 2], kind="stable")]
            ax.scatter(pts[:, 0], pts[:, 1], s=marker_area(pts[:, 2]),
                       facecolor="#d3d3d3", edgecolor="black", linewidth=0.9, zorder=3)

            phase_labels(ax)
            ax.set_xlim(*XLIM)
            ax.set_ylim(*YLIM)
            ax.set_xticks([-15, -10, -5, 0])
            ax.set_yticks([-5, 0, 5, 10, 15])
            ax.tick_params(direction="in", length=5, width=1.0, top=True, right=True,
                           labelsize=12, colors="black")
            if row < len(PRECURSORS) - 1:
                ax.tick_params(labelbottom=False)
            else:
                ax.set_xlabel("log $P_{sat}$ [atm]", fontsize=12, labelpad=4)
            if col == 1:
                ax.tick_params(labelleft=False)
            if row == 0:
                ax.set_title(MECHANISMS[col], fontsize=15, pad=5)
            for spine in ax.spines.values():
                spine.set_color("#222222")

        y_mid = 1 - (top + ax_h / 2) / FIG_H
        fig.text(24 / FIG_W, y_mid, name, rotation=90, ha="center", va="center",
                 fontsize=15, fontweight="bold", fontstyle="italic", family=LABEL_FONT)
        fig.text(54 / FIG_W, y_mid, "log $H$ [M atm$^{-1}$]", rotation=90,
                 ha="center", va="center", fontsize=12)

    draw_size_key(fig)

    fig.savefig("out.png", dpi=100)
    plt.close(fig)


if __name__ == "__main__":
    main()
